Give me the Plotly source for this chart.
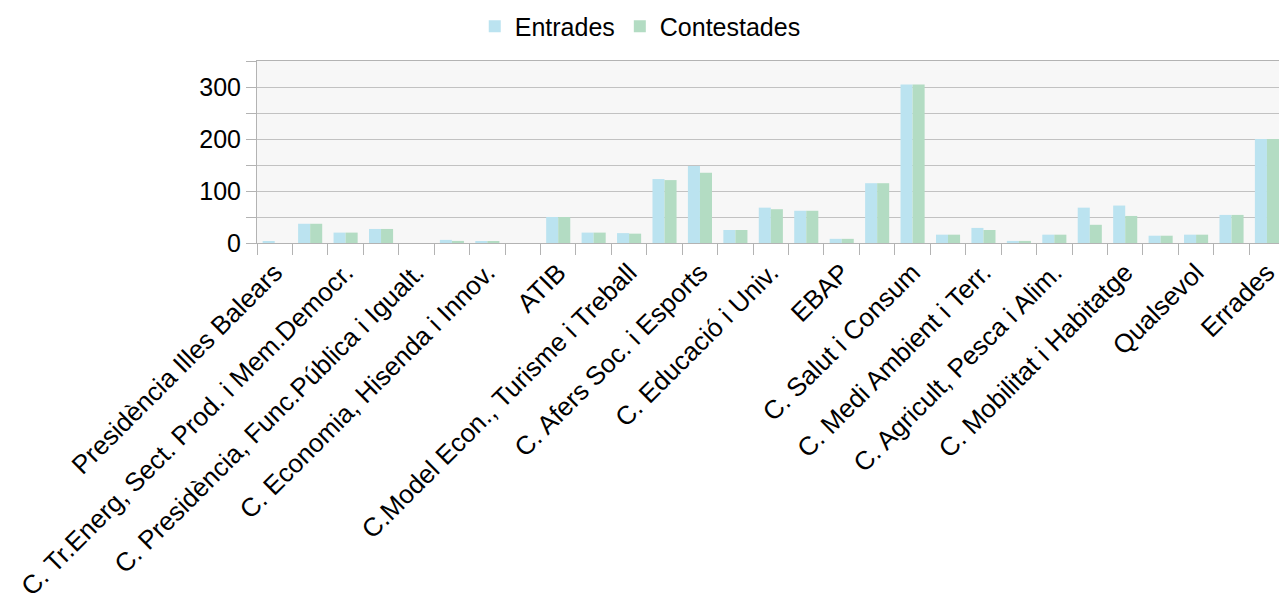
import plotly.graph_objects as go

# Shown category labels (every second slot gets a label)
tick_labels = [
    "Presidència Illes Balears",
    "C. Tr.Energ, Sect. Prod. i Mem.Democr.",
    "C. Presidència, Func.Pública i Igualt.",
    "C. Economia, Hisenda i Innov.",
    "ATIB",
    "C.Model Econ., Turisme i Treball",
    "C. Afers Soc. i Esports",
    "C. Educació i Univ.",
    "EBAP",
    "C. Salut i Consum",
    "C. Medi Ambient i Terr.",
    "C. Agricult, Pesca i Alim.",
    "C. Mobilitat i Habitatge",
    "Qualsevol",
    "Errades",
]

entrades = [2, 37, 20, 27, 0, 6, 2, 0, 50, 20, 19, 123, 148, 25, 68,
            62, 8, 115, 305, 16, 29, 4, 16, 68, 72, 14, 16, 54, 200]
contestades = [0, 37, 20, 27, 0, 4, 2, 0, 50, 20, 18, 121, 135, 25, 65,
               62, 8, 115, 305, 16, 25, 4, 16, 35, 52, 14, 16, 54, 200]

n = len(entrades)
x = list(range(n))

FONT = "Liberation Sans, Arial, sans-serif"
AXIS_GREY = "#b3b3b3"
GRID_GREY = "#c2c2c2"

fig = go.Figure()
fig.add_trace(go.Bar(name="Entrades", x=x, y=entrades,
                     marker=dict(color="#bbe3f0", line=dict(width=0))))
fig.add_trace(go.Bar(name="Contestades", x=x, y=contestades,
                     marker=dict(color="#b3dcc3", line=dict(width=0))))

fig.update_layout(
    width=1279, height=602,
    margin=dict(l=257, r=0, t=61, b=359),
    paper_bgcolor="white",
    plot_bgcolor="#f7f7f7",
    barmode="group",
    bargap=0.32,
    bargroupgap=0,
    font=dict(family=FONT, size=25, color="black"),
    showlegend=True,
    legend=dict(orientation="h", x=0.375, xanchor="center",
                y=1.19, yanchor="middle",
                font=dict(size=25), bgcolor="rgba(0,0,0,0)"),
)

fig.update_xaxes(
    range=[-0.5, 28.34],
    tickmode="array",
    tickvals=x[::2],
    ticktext=tick_labels,
    tickangle=-45,
    ticklabeloverflow="allow",
    ticks="outside", ticklen=3, tickcolor="rgba(0,0,0,0)",
    showgrid=False, zeroline=False,
    showline=True, mirror=True, linecolor=AXIS_GREY, linewidth=1,
    minor=dict(tickmode="array", tickvals=[i - 0.5 for i in range(n)],
               ticks="outside", ticklen=11, tickcolor=AXIS_GREY, showgrid=False),
    tickfont=dict(size=26),
)

fig.update_yaxes(
    range=[0, 350],
    tickmode="array",
    tickvals=[0, 100, 200, 300, 350],
    ticktext=["0", "100", "200", "300", ""],
    ticks="outside", ticklen=10, tickcolor=AXIS_GREY,
    showgrid=True, gridcolor=GRID_GREY, gridwidth=1,
    zeroline=False,
    showline=True, linecolor=AXIS_GREY, linewidth=1,
    minor=dict(dtick=50, tick0=0, ticks="outside", ticklen=10,
               tickcolor=AXIS_GREY, showgrid=True, gridcolor=GRID_GREY, gridwidth=1),
    tickfont=dict(size=25),
)

fig.write_html("out.html")
